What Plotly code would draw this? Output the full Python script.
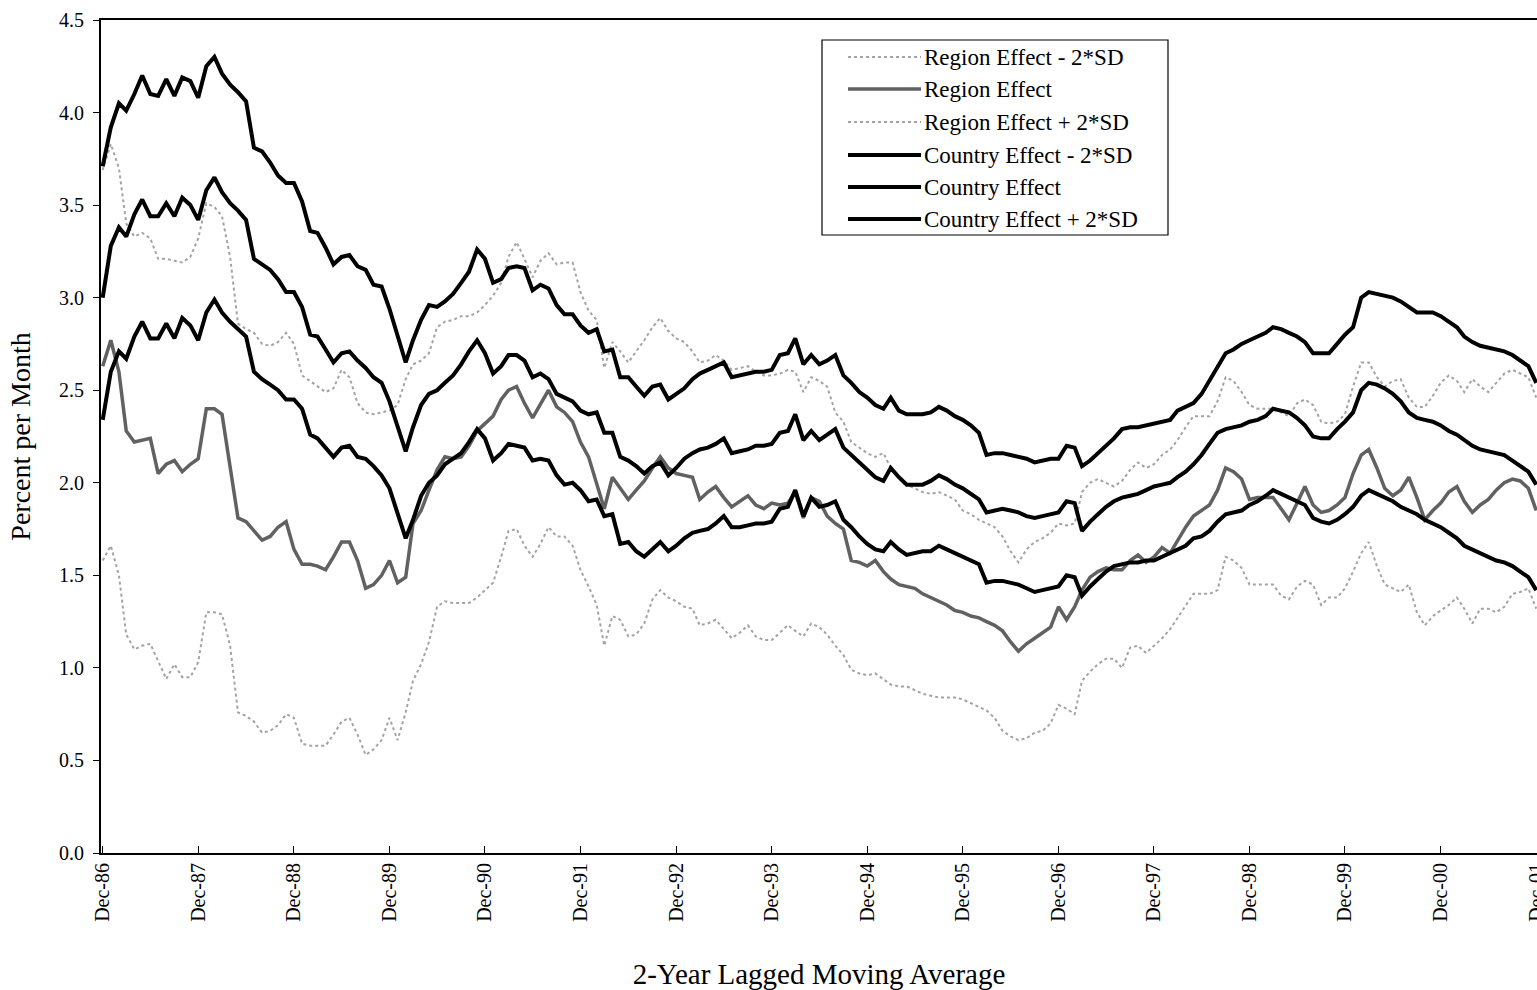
import pandas as pd
import plotly.graph_objects as go

# ---------------- data (monthly, Dec-86 .. Dec-01) ----------------
months = pd.date_range("1986-12-01", periods=181, freq="MS")
tick_dates = pd.date_range("1986-12-01", periods=16, freq="12MS")
tick_labels = [d.strftime("%b-%y") for d in tick_dates]

region_minus_2sd = [
    1.58, 1.66, 1.50, 1.18, 1.10, 1.12, 1.13, 1.04, 0.94, 1.02,
    0.95, 0.95, 1.03, 1.30, 1.30, 1.29, 1.12, 0.76, 0.74, 0.71,
    0.65, 0.66, 0.69, 0.75, 0.73, 0.59, 0.58, 0.58, 0.58, 0.64,
    0.71, 0.73, 0.64, 0.53, 0.56, 0.61, 0.73, 0.61, 0.76, 0.93,
    1.02, 1.14, 1.33, 1.36, 1.35, 1.35, 1.35, 1.38, 1.42, 1.46,
    1.60, 1.74, 1.75, 1.66, 1.60, 1.67, 1.76, 1.71, 1.71, 1.66,
    1.53, 1.44, 1.34, 1.12, 1.28, 1.26, 1.17, 1.18, 1.24, 1.37,
    1.42, 1.38, 1.36, 1.33, 1.32, 1.23, 1.24, 1.26, 1.21, 1.16,
    1.19, 1.23, 1.17, 1.15, 1.15, 1.19, 1.23, 1.20, 1.17, 1.24,
    1.22, 1.18, 1.12, 1.07, 0.99, 0.97, 0.96, 0.97, 0.94, 0.91,
    0.90, 0.90, 0.88, 0.86, 0.85, 0.84, 0.84, 0.84, 0.83, 0.81,
    0.79, 0.77, 0.73, 0.66, 0.63, 0.61, 0.62, 0.65, 0.66, 0.70,
    0.80, 0.78, 0.75, 0.93, 0.98, 1.02, 1.05, 1.05, 1.00, 1.11,
    1.12, 1.08, 1.12, 1.16, 1.21, 1.27, 1.33, 1.40, 1.40, 1.40,
    1.42, 1.60, 1.58, 1.54, 1.45, 1.45, 1.45, 1.45, 1.39, 1.37,
    1.44, 1.47, 1.45, 1.34, 1.38, 1.38, 1.43, 1.52, 1.62, 1.68,
    1.55, 1.45, 1.43, 1.41, 1.45, 1.30, 1.23, 1.28, 1.31, 1.34,
    1.38, 1.32, 1.24, 1.32, 1.32, 1.30, 1.33, 1.40, 1.41, 1.43,
    1.32,
]

region_effect = [
    2.63, 2.77, 2.60, 2.28, 2.22, 2.23, 2.24, 2.05, 2.10, 2.12,
    2.06, 2.10, 2.13, 2.40, 2.40, 2.37, 2.10, 1.81, 1.79, 1.74,
    1.69, 1.71, 1.76, 1.79, 1.64, 1.56, 1.56, 1.55, 1.53, 1.60,
    1.68, 1.68, 1.58, 1.43, 1.45, 1.50, 1.58, 1.46, 1.49, 1.78,
    1.85, 1.96, 2.07, 2.14, 2.13, 2.14, 2.20, 2.28, 2.32, 2.36,
    2.45, 2.50, 2.52, 2.43, 2.35, 2.42, 2.50, 2.41, 2.38, 2.33,
    2.22, 2.14, 2.00, 1.86, 2.03, 1.97, 1.91, 1.96, 2.01, 2.08,
    2.14, 2.08, 2.05, 2.04, 2.03, 1.91, 1.95, 1.98, 1.92, 1.87,
    1.90, 1.93, 1.88, 1.86, 1.89, 1.88, 1.89, 1.95, 1.81, 1.92,
    1.90, 1.82, 1.78, 1.75, 1.58, 1.57, 1.55, 1.58, 1.52, 1.48,
    1.45, 1.44, 1.43, 1.40, 1.38, 1.36, 1.34, 1.31, 1.30, 1.28,
    1.27, 1.25, 1.23, 1.20, 1.14, 1.09, 1.13, 1.16, 1.19, 1.22,
    1.33, 1.26, 1.33, 1.42, 1.49, 1.52, 1.54, 1.53, 1.53, 1.58,
    1.61, 1.57, 1.60, 1.65, 1.62, 1.69, 1.76, 1.82, 1.85, 1.88,
    1.96, 2.08, 2.06, 2.02, 1.91, 1.92, 1.92, 1.92, 1.86, 1.80,
    1.89, 1.98, 1.88, 1.84, 1.85, 1.88, 1.92, 2.05, 2.15, 2.18,
    2.08, 1.97, 1.93, 1.96, 2.03, 1.92, 1.80, 1.85, 1.89, 1.95,
    1.98, 1.90, 1.84, 1.88, 1.91, 1.96, 2.00, 2.02, 2.01, 1.97,
    1.85,
]

region_plus_2sd = [
    3.69, 3.83, 3.70, 3.40, 3.33, 3.35, 3.32, 3.21, 3.21, 3.20,
    3.19, 3.22, 3.32, 3.51, 3.49, 3.44, 3.22, 2.86, 2.83, 2.81,
    2.75, 2.74, 2.76, 2.81, 2.75, 2.58, 2.55, 2.52, 2.49, 2.51,
    2.61, 2.57, 2.43, 2.38, 2.37, 2.38, 2.39, 2.42, 2.56, 2.64,
    2.66, 2.70, 2.84, 2.87, 2.88, 2.90, 2.90, 2.92, 2.96, 3.01,
    3.08, 3.22, 3.30, 3.21, 3.11, 3.20, 3.24, 3.18, 3.19, 3.19,
    3.03, 2.93, 2.88, 2.62, 2.76, 2.71, 2.65, 2.71, 2.77, 2.84,
    2.89, 2.82, 2.78, 2.76, 2.71, 2.65, 2.66, 2.69, 2.66, 2.61,
    2.62, 2.63, 2.60, 2.58, 2.58, 2.59, 2.61, 2.60, 2.49, 2.57,
    2.55, 2.52, 2.38, 2.33, 2.22, 2.19, 2.16, 2.14, 2.16, 2.08,
    2.02, 1.99, 1.97, 1.95, 1.94, 1.95, 1.93, 1.91, 1.85, 1.83,
    1.80, 1.78, 1.76, 1.71, 1.63, 1.57, 1.64, 1.68, 1.70, 1.73,
    1.78, 1.77, 1.78, 1.95, 2.00, 2.02, 2.00, 1.98, 2.01, 2.07,
    2.11, 2.08, 2.10, 2.15, 2.18, 2.23, 2.30, 2.36, 2.36, 2.36,
    2.44, 2.57, 2.55, 2.49, 2.42, 2.40, 2.40, 2.40, 2.38, 2.36,
    2.43, 2.45, 2.42, 2.33, 2.32, 2.33, 2.37, 2.52, 2.65, 2.65,
    2.57, 2.52, 2.55, 2.56, 2.46, 2.41, 2.41, 2.47, 2.54, 2.58,
    2.55, 2.49, 2.56, 2.52, 2.49, 2.54, 2.59, 2.61, 2.59, 2.57,
    2.46,
]

country_minus_2sd = [
    2.34, 2.60, 2.71, 2.67, 2.79, 2.87, 2.78, 2.78, 2.86, 2.78,
    2.89, 2.85, 2.77, 2.92, 2.99, 2.92, 2.87, 2.83, 2.79, 2.60,
    2.56, 2.53, 2.50, 2.45, 2.45, 2.40, 2.26, 2.24, 2.19, 2.14,
    2.19, 2.20, 2.14, 2.13, 2.09, 2.04, 1.97, 1.84, 1.70, 1.80,
    1.93, 2.00, 2.04, 2.10, 2.13, 2.16, 2.22, 2.29, 2.24, 2.12,
    2.16, 2.21, 2.20, 2.19, 2.12, 2.13, 2.12, 2.04, 1.99, 2.00,
    1.96, 1.90, 1.91, 1.82, 1.83, 1.67, 1.68, 1.63, 1.60, 1.64,
    1.68, 1.63, 1.66, 1.70, 1.73, 1.74, 1.75, 1.78, 1.82, 1.76,
    1.76, 1.77, 1.78, 1.78, 1.79, 1.86, 1.87, 1.96, 1.82, 1.92,
    1.87, 1.88, 1.90, 1.80, 1.76, 1.71, 1.67, 1.64, 1.63, 1.68,
    1.64, 1.61, 1.62, 1.63, 1.63, 1.66, 1.64, 1.62, 1.60, 1.58,
    1.56, 1.46, 1.47, 1.47, 1.46, 1.45, 1.43, 1.41, 1.42, 1.43,
    1.44, 1.50, 1.49, 1.39, 1.44, 1.48, 1.52, 1.55, 1.56, 1.57,
    1.57, 1.58, 1.58, 1.60, 1.62, 1.64, 1.66, 1.70, 1.71, 1.74,
    1.79, 1.83, 1.84, 1.85, 1.88, 1.90, 1.93, 1.96, 1.94, 1.92,
    1.90, 1.88, 1.81, 1.79, 1.78, 1.80, 1.83, 1.87, 1.93, 1.96,
    1.94, 1.92, 1.90, 1.87, 1.85, 1.83, 1.80, 1.78, 1.76, 1.73,
    1.70, 1.66, 1.64, 1.62, 1.60, 1.58, 1.57, 1.55, 1.52, 1.49,
    1.42,
]

country_effect = [
    3.00, 3.28, 3.38, 3.33, 3.45, 3.53, 3.44, 3.44, 3.51, 3.44,
    3.54, 3.50, 3.42, 3.58, 3.65, 3.57, 3.51, 3.47, 3.42, 3.21,
    3.18, 3.15, 3.10, 3.03, 3.03, 2.95, 2.80, 2.79, 2.72, 2.65,
    2.70, 2.71, 2.66, 2.62, 2.57, 2.54, 2.44, 2.30, 2.17, 2.30,
    2.42, 2.48, 2.50, 2.54, 2.58, 2.64, 2.71, 2.77, 2.70, 2.59,
    2.63, 2.69, 2.69, 2.66, 2.57, 2.59, 2.56, 2.48, 2.46, 2.44,
    2.39, 2.37, 2.38, 2.27, 2.27, 2.14, 2.12, 2.09, 2.05, 2.09,
    2.11, 2.04, 2.08, 2.13, 2.16, 2.18, 2.19, 2.21, 2.24, 2.16,
    2.17, 2.18, 2.20, 2.20, 2.21, 2.27, 2.28, 2.37, 2.23, 2.28,
    2.23, 2.26, 2.29, 2.19, 2.15, 2.11, 2.07, 2.03, 2.01, 2.08,
    2.03, 1.99, 1.99, 1.99, 2.01, 2.04, 2.02, 1.99, 1.97, 1.94,
    1.91, 1.84, 1.85, 1.86, 1.85, 1.84, 1.82, 1.81, 1.82, 1.83,
    1.84, 1.90, 1.89, 1.74, 1.79, 1.83, 1.87, 1.90, 1.92, 1.93,
    1.94, 1.96, 1.98, 1.99, 2.00, 2.03, 2.06, 2.10, 2.15, 2.21,
    2.27, 2.29, 2.30, 2.31, 2.33, 2.34, 2.36, 2.40, 2.39, 2.38,
    2.35, 2.31, 2.25, 2.24, 2.24, 2.29, 2.33, 2.38, 2.50, 2.54,
    2.53, 2.51, 2.48, 2.44, 2.38, 2.35, 2.34, 2.33, 2.31, 2.28,
    2.26, 2.23, 2.20, 2.18, 2.17, 2.16, 2.15, 2.12, 2.09, 2.06,
    1.99,
]

country_plus_2sd = [
    3.71, 3.92, 4.05, 4.01, 4.10, 4.20, 4.10, 4.09, 4.18, 4.09,
    4.19, 4.17, 4.08, 4.25, 4.30, 4.21, 4.15, 4.11, 4.06, 3.81,
    3.79, 3.73, 3.66, 3.62, 3.62, 3.52, 3.36, 3.35, 3.27, 3.18,
    3.22, 3.23, 3.17, 3.15, 3.07, 3.06, 2.94, 2.80, 2.65, 2.77,
    2.88, 2.96, 2.95, 2.98, 3.02, 3.08, 3.14, 3.26, 3.21, 3.08,
    3.10, 3.16, 3.17, 3.16, 3.04, 3.07, 3.05, 2.96, 2.91, 2.91,
    2.85, 2.81, 2.83, 2.71, 2.72, 2.57, 2.57, 2.52, 2.47, 2.52,
    2.53, 2.45, 2.48, 2.51, 2.56, 2.59, 2.61, 2.63, 2.65, 2.57,
    2.58, 2.59, 2.60, 2.60, 2.61, 2.69, 2.70, 2.78, 2.64, 2.69,
    2.64, 2.66, 2.69, 2.58, 2.54, 2.49, 2.46, 2.42, 2.40, 2.46,
    2.39, 2.37, 2.37, 2.37, 2.38, 2.41, 2.39, 2.36, 2.34, 2.31,
    2.27, 2.15, 2.16, 2.16, 2.15, 2.14, 2.13, 2.11, 2.12, 2.13,
    2.13, 2.20, 2.19, 2.09, 2.12, 2.16, 2.20, 2.24, 2.29, 2.30,
    2.30, 2.31, 2.32, 2.33, 2.34, 2.39, 2.41, 2.43, 2.48, 2.55,
    2.63, 2.70, 2.72, 2.75, 2.77, 2.79, 2.81, 2.84, 2.83, 2.81,
    2.79, 2.76, 2.70, 2.70, 2.70, 2.75, 2.80, 2.84, 3.00, 3.03,
    3.02, 3.01, 3.00, 2.98, 2.95, 2.92, 2.92, 2.92, 2.90, 2.87,
    2.84, 2.79, 2.76, 2.74, 2.73, 2.72, 2.71, 2.69, 2.66, 2.63,
    2.54,
]

series_names = [
    "Region Effect - 2*SD",
    "Region Effect",
    "Region Effect + 2*SD",
    "Country Effect - 2*SD",
    "Country Effect",
    "Country Effect + 2*SD",
]
series_values = [region_minus_2sd, region_effect, region_plus_2sd,
                 country_minus_2sd, country_effect, country_plus_2sd]
y_ticks = [0.0, 0.5, 1.0, 1.5, 2.0, 2.5, 3.0, 3.5, 4.0, 4.5]

# ---------------- styles ----------------
styles = [
    dict(color="#a3a3a3", width=2, dash="dot"),
    dict(color="#616161", width=3.5, dash="solid"),
    dict(color="#a3a3a3", width=2, dash="dot"),
    dict(color="#000000", width=4, dash="solid"),
    dict(color="#000000", width=4, dash="solid"),
    dict(color="#000000", width=4, dash="solid"),
]

FONT = "Liberation Serif"
fig = go.Figure()
for name, vals, st in zip(series_names, series_values, styles):
    assert len(vals) == len(months)
    fig.add_trace(go.Scatter(x=months, y=vals, mode="lines", name=name,
                             line=st, showlegend=False))

# ---------------- custom legend (box, line samples, labels) ----------------
W, H = 1436.0, 833.0
L, T = 101.0, 20.0
def px(xp):
    return (xp - L) / W
def py(yp):
    return (T + H - yp) / H

shapes = [dict(type="rect", xref="paper", yref="paper",
               x0=px(822), x1=px(1168), y0=py(235), y1=py(40),
               line=dict(color="black", width=1.2), fillcolor="white",
               layer="above")]
annotations = []
row_y = [57, 89, 122, 155, 187, 219]
for name, st, yy in zip(series_names, styles, row_y):
    shapes.append(dict(type="line", xref="paper", yref="paper",
                       x0=px(848), x1=px(921), y0=py(yy), y1=py(yy),
                       line=st, layer="above"))
    annotations.append(dict(text=name, xref="paper", yref="paper",
                            x=px(922), y=py(yy), xanchor="left", yanchor="middle",
                            showarrow=False, font=dict(family=FONT, size=23, color="black")))

fig.update_layout(
    autosize=False,
    width=1537, height=990,
    margin=dict(l=101, r=0, t=20, b=137),
    paper_bgcolor="white", plot_bgcolor="white",
    showlegend=False,
    font=dict(family=FONT, color="black"),
    shapes=shapes, annotations=annotations,
    xaxis=dict(
        type="date", automargin=False,
        range=["1986-11-24 12:00", "2001-12-04"],
        tickvals=list(tick_dates), ticktext=tick_labels,
        tickangle=-90, ticks="inside", ticklen=7, tickcolor="black", tickwidth=1,
        ticklabeloverflow="allow",
        tickfont=dict(family=FONT, size=20, color="black"),
        showline=True, linecolor="black", linewidth=2, mirror=True,
        showgrid=False, zeroline=False,
        title=dict(text="2-Year Lagged Moving Average",
                   font=dict(family=FONT, size=29, color="black"), standoff=45),
    ),
    yaxis=dict(
        automargin=False,
        range=[0, 4.5],
        tickvals=y_ticks, tickformat=".1f",
        ticks="outside", ticklen=6, tickcolor="black", tickwidth=1,
        ticklabelstandoff=5,
        tickfont=dict(family=FONT, size=20, color="black"),
        showline=True, linecolor="black", linewidth=2,
        showgrid=False, zeroline=False,
        title=dict(text="Percent per Month",
                   font=dict(family=FONT, size=28, color="black"), standoff=20),
    ),
)

fig.write_html(
    "out.html",
    config={"displayModeBar": False, "responsive": False},
    post_script="document.body.style.margin='0px';"
                "document.documentElement.style.overflow='hidden';",
)
